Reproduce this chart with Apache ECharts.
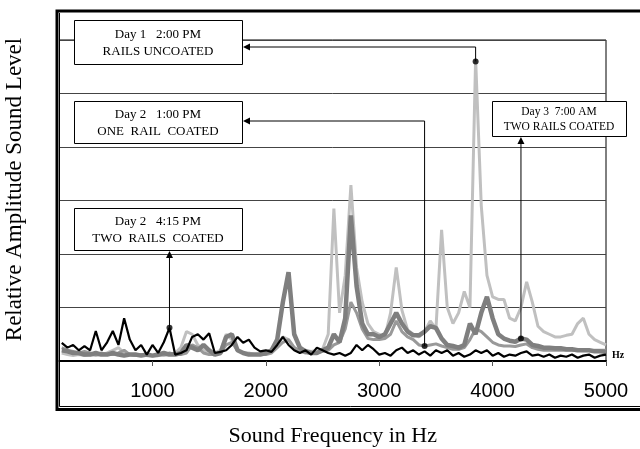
<!DOCTYPE html>
<html>
<head>
<meta charset="utf-8">
<style>html,body{margin:0;padding:0;background:#fff}#chart{width:640px;height:449px}</style>
<script src="https://cdn.jsdelivr.net/npm/echarts@6.0.0/dist/echarts.min.js"></script>
</head>
<body>
<div id="chart"></div>
<script>
// frequency grid (Hz)
const freq = [
  200, 250, 300, 350, 400, 450, 500, 550, 600, 650,
  700, 750, 800, 850, 900, 950, 1000, 1050, 1100, 1150,
  1200, 1250, 1300, 1350, 1400, 1450, 1500, 1550, 1600, 1650,
  1700, 1750, 1800, 1850, 1900, 1950, 2000, 2050, 2100, 2150,
  2200, 2250, 2300, 2350, 2400, 2450, 2500, 2550, 2600, 2650,
  2700, 2750, 2800, 2850, 2900, 2950, 3000, 3050, 3100, 3150,
  3200, 3250, 3300, 3350, 3400, 3450, 3500, 3550, 3600, 3650,
  3700, 3750, 3800, 3850, 3900, 3950, 4000, 4050, 4100, 4150,
  4200, 4250, 4300, 4350, 4400, 4450, 4500, 4550, 4600, 4650,
  4700, 4750, 4800, 4850, 4900, 4950, 5000
];
// Day 1 2:00 PM, rails uncoated (light gray)
const day1 = [
  0.15, 0.12, 0.1, 0.12, 0.1, 0.12, 0.1, 0.12, 0.15, 0.2,
  0.25, 0.15, 0.12, 0.1, 0.12, 0.1, 0.1, 0.12, 0.1, 0.12,
  0.15, 0.25, 0.55, 0.5, 0.3, 0.2, 0.15, 0.15, 0.2, 0.5,
  0.4, 0.2, 0.15, 0.15, 0.12, 0.12, 0.15, 0.2, 0.3, 0.45,
  0.4, 0.25, 0.2, 0.2, 0.18, 0.2, 0.22, 0.5, 2.85, 0.9,
  1.6, 3.29, 1.75, 1.1, 0.7, 0.55, 0.5, 0.45, 0.9, 1.75,
  0.95, 0.58, 0.5, 0.45, 0.55, 0.75, 0.6, 2.45, 1.0, 0.7,
  0.9, 1.3, 1.0, 5.65, 2.9, 1.6, 1.2, 1.15, 1.15, 0.8,
  0.75, 1.0, 1.48, 1.1, 0.65, 0.55, 0.5, 0.45, 0.45, 0.48,
  0.5, 0.7, 0.8, 0.5, 0.4, 0.35, 0.3
];
// Day 2 1:00 PM, one rail coated (medium gray)
const day2a = [
  0.25, 0.2, 0.18, 0.15, 0.18, 0.15, 0.12, 0.15, 0.12, 0.12,
  0.15, 0.2, 0.12, 0.1, 0.12, 0.12, 0.1, 0.1, 0.12, 0.15,
  0.12, 0.12, 0.15, 0.3, 0.25, 0.15, 0.12, 0.12, 0.15, 0.3,
  0.35, 0.2, 0.15, 0.12, 0.12, 0.12, 0.12, 0.15, 0.25, 0.35,
  0.4, 0.25, 0.18, 0.15, 0.15, 0.15, 0.18, 0.2, 0.3, 0.35,
  0.6, 1.1, 0.9, 0.6, 0.42, 0.4, 0.4, 0.42, 0.5, 0.75,
  0.55, 0.45, 0.4, 0.3, 0.28, 0.3, 0.32, 0.28, 0.25, 0.22,
  0.22, 0.25, 0.4, 0.6, 0.55, 0.45, 0.35, 0.3, 0.28, 0.28,
  0.27, 0.3, 0.32, 0.25, 0.22, 0.2, 0.2, 0.2, 0.2, 0.2,
  0.2, 0.2, 0.2, 0.2, 0.2, 0.2, 0.2
];
// Day 3 7:00 AM, two rails coated (dark gray)
const day3 = [
  0.2, 0.18, 0.15, 0.15, 0.12, 0.12, 0.15, 0.12, 0.12, 0.15,
  0.12, 0.1, 0.12, 0.12, 0.1, 0.12, 0.1, 0.12, 0.15, 0.12,
  0.12, 0.15, 0.3, 0.25, 0.2, 0.3, 0.2, 0.12, 0.15, 0.45,
  0.5, 0.2, 0.15, 0.12, 0.12, 0.12, 0.15, 0.2, 0.4, 1.1,
  1.66, 0.5, 0.25, 0.18, 0.15, 0.15, 0.2, 0.25, 0.5, 0.35,
  0.8, 2.72, 1.4, 0.7, 0.5, 0.5, 0.45, 0.5, 0.7, 0.9,
  0.7, 0.55, 0.48, 0.48, 0.55, 0.65, 0.62, 0.42, 0.3, 0.28,
  0.25, 0.3, 0.7, 0.5, 0.9, 1.2, 0.8, 0.5, 0.42, 0.38,
  0.36, 0.42, 0.4, 0.3, 0.28, 0.25, 0.25, 0.24, 0.24, 0.22,
  0.22, 0.2, 0.2, 0.2, 0.18, 0.18, 0.17
];
// Day 2 4:15 PM, two rails coated (black)
const day2b = [
  0.34, 0.25, 0.3, 0.2, 0.28, 0.2, 0.56, 0.2, 0.35, 0.56,
  0.3, 0.8, 0.4, 0.2, 0.3, 0.12, 0.3, 0.15, 0.35, 0.62,
  0.12, 0.15, 0.2, 0.45, 0.5, 0.4, 0.52, 0.15, 0.17, 0.2,
  0.3, 0.45, 0.34, 0.4, 0.25, 0.18, 0.2, 0.17, 0.3, 0.45,
  0.3, 0.2, 0.15, 0.2, 0.12, 0.25, 0.2, 0.15, 0.12, 0.15,
  0.1, 0.15, 0.3, 0.2, 0.3, 0.22, 0.12, 0.15, 0.1, 0.2,
  0.25, 0.15, 0.2, 0.12, 0.18, 0.1, 0.2, 0.15, 0.2, 0.1,
  0.15, 0.08, 0.12, 0.2, 0.15, 0.2, 0.1, 0.15, 0.08, 0.12,
  0.1, 0.15, 0.18, 0.1, 0.12, 0.08, 0.12, 0.06, 0.1, 0.08,
  0.12, 0.06, 0.1, 0.12, 0.06, 0.1, 0.12
];
const tickValues = [1000, 2000, 3000, 4000, 5000];
// points the callouts point at: day1, day2a, day2b, day3
const notePoints = [[3850, 5.6], [3400, 0.28], [1150, 0.62], [4250, 0.42]];
const noteText = [
  'Day 1   2:00 PM\nRAILS UNCOATED',
  'Day 2   1:00 PM\nONE  RAIL  COATED',
  'Day 2   4:15 PM\nTWO  RAILS  COATED',
  'Day 3  7:00 AM\nTWO RAILS COATED'
];

const serif = '"Liberation Serif", "Times New Roman", serif';
const sans = '"Liberation Sans", Arial, sans-serif';
const pairs = vals => freq.map((f, i) => [f, vals[i]]);

let myChart = echarts.init(document.getElementById('chart'));
let option = {
  animation: false,
  grid: {
    left: 59.5, right: 34, top: 40, bottom: 88,
    outerBoundsMode: 'none', containLabel: false,
    show: true, borderColor: '#000', borderWidth: 1,
  },
  xAxis: {
    type: 'value', min: 180, max: 5000,
    axisLine: { lineStyle: { color: '#000', width: 2 } },
    axisTick: { customValues: tickValues, length: 5, lineStyle: { color: '#555' } },
    axisLabel: { customValues: tickValues, margin: 20, fontFamily: sans, fontSize: 20, color: '#000',
      formatter: v => String(v) },
    splitLine: { show: false },
    name: 'Sound Frequency in Hz', nameLocation: 'middle', nameGap: 64,
    nameTextStyle: { fontFamily: serif, fontSize: 22, color: '#000' },
  },
  yAxis: {
    type: 'value', min: 0, max: 6, interval: 1,
    axisLine: { show: false }, axisTick: { show: false }, axisLabel: { show: false },
    splitLine: { lineStyle: { color: '#444', width: 1 } },
    name: 'Relative Amplitude Sound Level', nameLocation: 'middle', nameGap: 33, nameRotate: 90,
    nameTextStyle: { fontFamily: serif, fontSize: 23, color: '#000', padding: [0, 0, 0, 22] },
  },
  series: [
    { name: 'Day 1 2:00 PM', type: 'line', data: pairs(day1), showSymbol: false, silent: true, z: 2,
      lineStyle: { color: '#c0c0c0', width: 3 } },
    { name: 'Day 2 1:00 PM', type: 'line', data: pairs(day2a), showSymbol: false, silent: true, z: 3,
      lineStyle: { color: '#999', width: 3 } },
    { name: 'Day 3 7:00 AM', type: 'line', data: pairs(day3), showSymbol: false, silent: true, z: 4,
      lineStyle: { color: '#7f7f7f', width: 4.5 } },
    { name: 'Day 2 4:15 PM', type: 'line', data: pairs(day2b), showSymbol: false, silent: true, z: 5,
      lineStyle: { color: '#000', width: 2.2 } },
    { name: 'notes', type: 'scatter', data: notePoints, symbolSize: 6, silent: true, z: 20,
      itemStyle: { color: '#000' } },
  ],
};
myChart.setOption(option);

// callout boxes and connectors
const px = notePoints.map(p => myChart.convertToPixel({ gridIndex: 0 }, p));
const boxes = [
  { x: 74, y: 20, w: 168, h: 44, size: 13 },
  { x: 74, y: 101, w: 168, h: 42, size: 13 },
  { x: 74, y: 208, w: 168, h: 42, size: 13 },
  { x: 492, y: 101, w: 134, h: 35, size: 11.5 },
];
const g = [];
// outer double frame
g.push({ type: 'polyline', z: 50, shape: { points: [[700, 11], [57, 11], [57, 409.5], [700, 409.5]] },
  style: { stroke: '#000', lineWidth: 3, fill: null } });
g.push({ type: 'polyline', z: 50, shape: { points: [[59.5, 13], [59.5, 406.5], [700, 406.5]] },
  style: { stroke: '#000', lineWidth: 1, fill: null } });
boxes.forEach((b, i) => {
  g.push({ type: 'rect', z: 60, shape: { x: b.x + 0.5, y: b.y + 0.5, width: b.w, height: b.h },
    style: { fill: '#fff', stroke: '#000', lineWidth: 1 } });
  g.push({ type: 'text', z: 61, style: { text: noteText[i], x: b.x + b.w / 2, y: b.y + b.h / 2 + 1,
    align: 'center', verticalAlign: 'middle', font: b.size + 'px ' + serif, lineHeight: b.size + 3.5, fill: '#000' } });
});
function leftArrow(x, y) { return { type: 'polygon', z: 62, shape: { points: [[x, y], [x + 7, y - 3.5], [x + 7, y + 3.5]] }, style: { fill: '#000' } }; }
function upArrow(x, y) { return { type: 'polygon', z: 62, shape: { points: [[x, y], [x - 3.5, y + 7], [x + 3.5, y + 7]] }, style: { fill: '#000' } }; }
const line = pts => ({ type: 'polyline', z: 55, shape: { points: pts }, style: { stroke: '#000', lineWidth: 1, fill: null } });
// day 1
g.push(line([px[0], [px[0][0], 47], [249, 47]]));
g.push(leftArrow(243, 47));
// day 2 1 PM
g.push(line([px[1], [px[1][0], 121], [249, 121]]));
g.push(leftArrow(243, 121));
// day 2 4:15 PM
g.push(line([px[2], [px[2][0], 257]]));
g.push(upArrow(px[2][0], 251));
// day 3
g.push(line([px[3], [px[3][0], 143]]));
g.push(upArrow(px[3][0], 137));
// small "Hz" tag at axis end
g.push({ type: 'text', z: 61, style: { text: 'Hz', x: 612, y: 355, align: 'left', verticalAlign: 'middle',
  font: 'bold 10px ' + serif, fill: '#000' } });
myChart.setOption({ graphic: g });
</script>
</body>
</html>
